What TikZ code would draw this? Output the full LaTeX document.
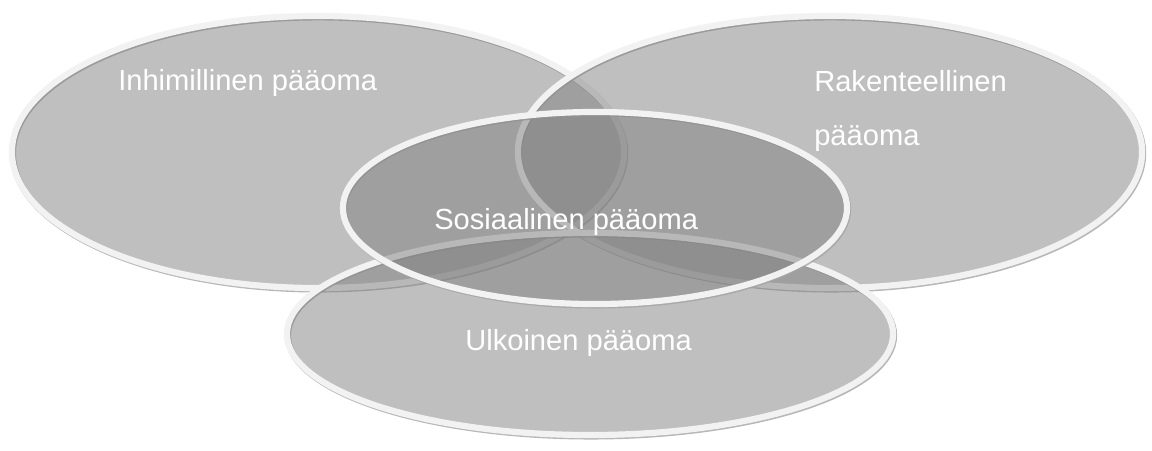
\documentclass[tikz,border=0pt]{standalone}
\usepackage{fontspec}
\setmainfont{Liberation Sans}
\usepackage{xcolor}
\usetikzlibrary{shapes.geometric}
\definecolor{capgray}{RGB}{127, 127, 127}
\definecolor{rimwhite}{RGB}{242, 242, 242}
\definecolor{rimshadow}{RGB}{165, 165, 165}

\begin{document}
\begin{tikzpicture}[
    x=0.025cm, y=-0.025cm,
    capital/.style={ellipse, draw=rimwhite, line width=4.4pt, inner sep=0pt,
                    fill=capgray, fill opacity=0.5,
                    preaction={draw=rimshadow, line width=4.4pt, draw opacity=0.8,
                               transform canvas={shift={(0.25mm,-0.35mm)}}}},
    label/.style={anchor=base west, inner sep=0pt, text=white, align=left,
                  font=\fontsize{20.7}{38.4}\selectfont}
]
    \useasboundingbox (0,0) rectangle (1152,450);
    \node[capital, minimum width=15.3cm, minimum height=6.8cm] (inhimillinen) at (318,152) {};
    \node[capital, minimum width=15.6cm, minimum height=6.8cm] (rakenteellinen) at (830,152) {};
    \node[capital, minimum width=15.15cm, minimum height=5.05cm] (ulkoinen) at (590,334) {};
    \node[capital, minimum width=12.6cm, minimum height=4.8cm] (sosiaalinen) at (595,208) {};

    \node[label] (inhtext) at (118,90) {Inhimillinen pääoma};
    \node[label] (raktext) at (814,145) {Rakenteellinen\\pääoma};
    \node[label] (sostext) at (434,229) {Sosiaalinen pääoma};
    \node[label] (ulktext) at (465,350) {Ulkoinen pääoma};
\end{tikzpicture}
\end{document}
